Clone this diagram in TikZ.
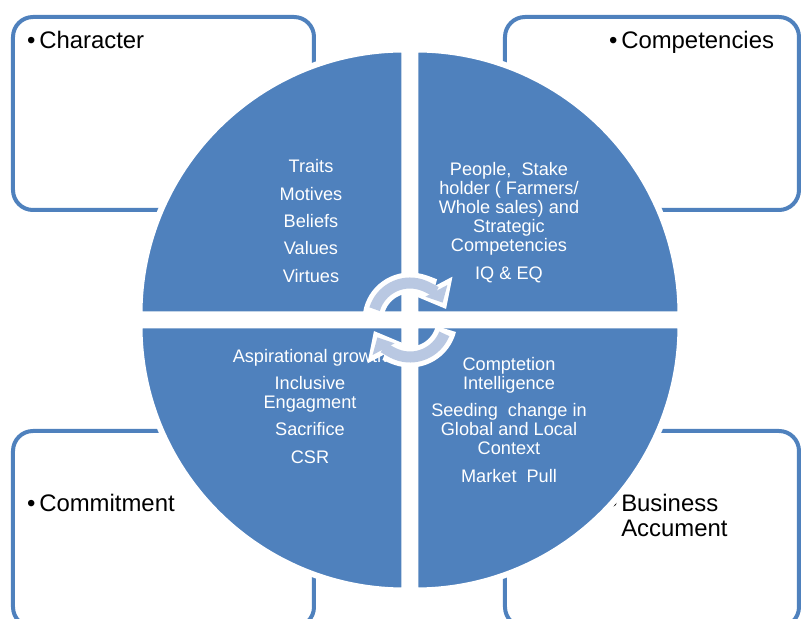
\documentclass[tikz,border=0pt]{standalone}
\usepackage{fontspec}
\setmainfont{Liberation Sans}
\usetikzlibrary{arrows.meta}

\definecolor{quadblue}{RGB}{79,129,189}
\definecolor{ringblue}{RGB}{185,200,226}

\begin{document}
\begin{tikzpicture}[x=0.03cm,y=0.03cm,
    cornerbox/.style={draw=quadblue,line width=0.12cm,rounded corners=0.6cm,fill=white},
    quarter/.style={fill=quadblue,draw=white,line width=0.18cm},
    boxtext/.style={anchor=base west,inner sep=0pt,text=black,font=\fontsize{20.4}{21.3}\selectfont},
    quartertext/.style={anchor=north,inner sep=0pt,align=center,text=white,font=\fontsize{15.5}{16.3}\selectfont},
    ringhalo/.style={draw=white,line width=0.63cm,-{Triangle[length=0.77cm,width=1.2cm]},shorten >=-0.22cm},
    ringcore/.style={draw=ringblue,line width=0.33cm,-{Triangle[length=0.4cm,width=0.72cm]}}]

  \useasboundingbox (-410,-299) rectangle (391,320);

  % the four framed corners
  \draw[cornerbox] (-397,110) rectangle (-96,303);
  \draw[cornerbox] (95,110) rectangle (389,303);
  \draw[cornerbox] (-397,-307) rectangle (-96,-111);
  \draw[cornerbox] (95,-307) rectangle (389,-111);

  \node[boxtext] (character) at (-383,271) {\textbullet\hspace{0.11cm}Character};
  \node[boxtext] (competencies) at (199,271) {\textbullet\hspace{0.11cm}Competencies};
  \node[boxtext] (commitment) at (-383,-192) {\textbullet\hspace{0.11cm}Commitment};
  \node[boxtext] (acumen) at (199,-192)
    {\textbullet\hspace{0.11cm}\begin{tabular}[t]{@{}l@{}}Business\\Accument\end{tabular}};

  % quarter discs
  \path[quarter] (-5.5,5.5) -- (-270.5,5.5) arc[start angle=180,end angle=90,radius=265] -- cycle;
  \path[quarter] (5.5,5.5) -- (5.5,270.5) arc[start angle=90,end angle=0,radius=265] -- cycle;
  \path[quarter] (5.5,-5.5) -- (270.5,-5.5) arc[start angle=0,end angle=-90,radius=265] -- cycle;
  \path[quarter] (-5.5,-5.5) -- (-5.5,-270.5) arc[start angle=-90,end angle=-180,radius=265] -- cycle;

  \node[quartertext] (traits) at (-99,160.5)
    {Traits\\[7pt]Motives\\[7pt]Beliefs\\[7pt]Values\\[7pt]Virtues};
  \node[quartertext] (people) at (99,158)
    {People,~ Stake\\holder ( Farmers/\\Whole sales) and\\Strategic\\Competencies\\[7pt]IQ \& EQ};
  \node[quartertext] (growth) at (-100,-28.7)
    {Aspirational growth\\[7pt]Inclusive\\Engagment\\[7pt]Sacrifice\\[7pt]CSR};
  \node[quartertext] (market) at (99,-37)
    {Comptetion\\Intelligence\\[7pt]Seeding~ change in\\Global and Local\\Context\\[7pt]Market~ Pull};

  % turning arrows in the middle
  \draw[ringhalo] (171:37) arc[start angle=171,end angle=28,radius=37];
  \draw[ringcore] (163:37) arc[start angle=163,end angle=28,radius=37];
  \draw[ringhalo] (-14:37) arc[start angle=-14,end angle=-152,radius=37];
  \draw[ringcore] (-22:37) arc[start angle=-22,end angle=-152,radius=37];

\end{tikzpicture}
\end{document}
